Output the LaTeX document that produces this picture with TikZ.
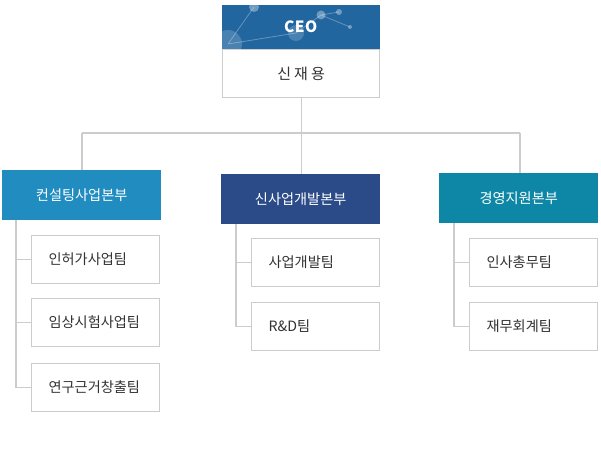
\documentclass[tikz,border=0pt]{standalone}
\usepackage{fontspec}
\setmainfont{Noto Sans CJK KR}
\usetikzlibrary{positioning}
\definecolor{ceoblue}{HTML}{2266A0}
\definecolor{consblue}{HTML}{208CC0}
\definecolor{newblue}{HTML}{2A4A88}
\definecolor{mgmtteal}{HTML}{0E87A6}
\definecolor{linegray}{HTML}{CCCCCC}
\definecolor{textgray}{HTML}{333333}
\tikzstyle{division} = [draw=none, text=white, minimum width=159pt, minimum height=50pt, anchor=north west, inner sep=0pt, font=\fontsize{14.2}{17}\selectfont]
\tikzstyle{team}     = [draw=linegray, line width=1.2pt, fill=white, text=textgray, text width=94pt, align=left, inner xsep=17pt, inner ysep=0pt, minimum height=48pt, anchor=north west, font=\fontsize{14.2}{17}\selectfont]
\tikzstyle{link}     = [linegray, line width=1.2pt]

\begin{document}
\begin{tikzpicture}[x=1pt, y=-1pt]
      \useasboundingbox (0,0) rectangle (601,454);
      % CEO box
      \node[draw=linegray, line width=1.2pt, fill=white, text=textgray, minimum width=157pt, minimum height=48pt, anchor=north west, inner sep=0pt, font=\fontsize{15}{18}\selectfont]
        (ceoname) at (222,49) {신\hspace{3pt}재\hspace{3pt}용};
      \node[fill=ceoblue, minimum width=158pt, minimum height=44pt, anchor=north west, inner sep=0pt]
        (ceo) at (221.5,5) {};
      \begin{scope}
        \clip (ceo.north west) rectangle (ceo.south east);
        \draw[white, opacity=0.3, line width=0.8pt] (228,44) -- (254,7) (228,44) -- (296,33) -- (321,15) -- (339,12) (321,15) -- (350,27);
        \fill[white, opacity=0.18] (228,44) circle (14) (296,33) circle (8);
        \fill[white, opacity=0.35] (254,7) circle (5) (321,15) circle (4.5) (339,12) circle (3) (350,27) circle (2);
      \end{scope}
      \node[text=white, font=\fontsize{15.5}{18}\selectfont\bfseries] at (ceo.center) {C\hspace{0.5pt}E\hspace{0.5pt}O};
      % Divisions
      \node[division, fill=consblue] (divA) at (2,170) {컨설팅사업본부};
      \node[division, fill=newblue]  (divB) at (221,174) {신사업개발본부};
      \node[division, fill=mgmtteal] (divC) at (439,173) {경영지원본부};
      % Teams
      \node[team] (teamA1) at (31,235) {인허가사업팀};
      \node[team] (teamA2) at (31,298) {임상시험사업팀};
      \node[team] (teamA3) at (31,363) {연구근거창출팀};
      \node[team] (teamB1) at (251,238) {사업개발팀};
      \node[team] (teamB2) at (251,302) {R\&D팀};
      \node[team] (teamC1) at (469,238) {인사총무팀};
      \node[team] (teamC2) at (469,302) {재무회계팀};
      % Connectors
      \coordinate (busA) at (82,133);
      \coordinate (busC) at (520,133);
      \coordinate (spineA) at (16,220);
      \coordinate (spineB) at (236,224);
      \coordinate (spineC) at (454,223);
      \draw[link] (ceoname.south) -- (ceoname.south |- busA);
      \draw[link] (busA) -- (busC);
      \draw[link] (busA) -- (busA |- divA.north);
      \draw[link] (ceoname.south |- busA) -- (ceoname.south |- divB.north);
      \draw[link] (busC) -- (busC |- divC.north);
      \draw[link] (spineA) |- (teamA3.west);
      \draw[link] (spineA |- teamA1.west) -- (teamA1.west);
      \draw[link] (spineA |- teamA2.west) -- (teamA2.west);
      \draw[link] (spineB) |- (teamB2.west);
      \draw[link] (spineB |- teamB1.west) -- (teamB1.west);
      \draw[link] (spineC) |- (teamC2.west);
      \draw[link] (spineC |- teamC1.west) -- (teamC1.west);
    \end{tikzpicture}
\end{document}
